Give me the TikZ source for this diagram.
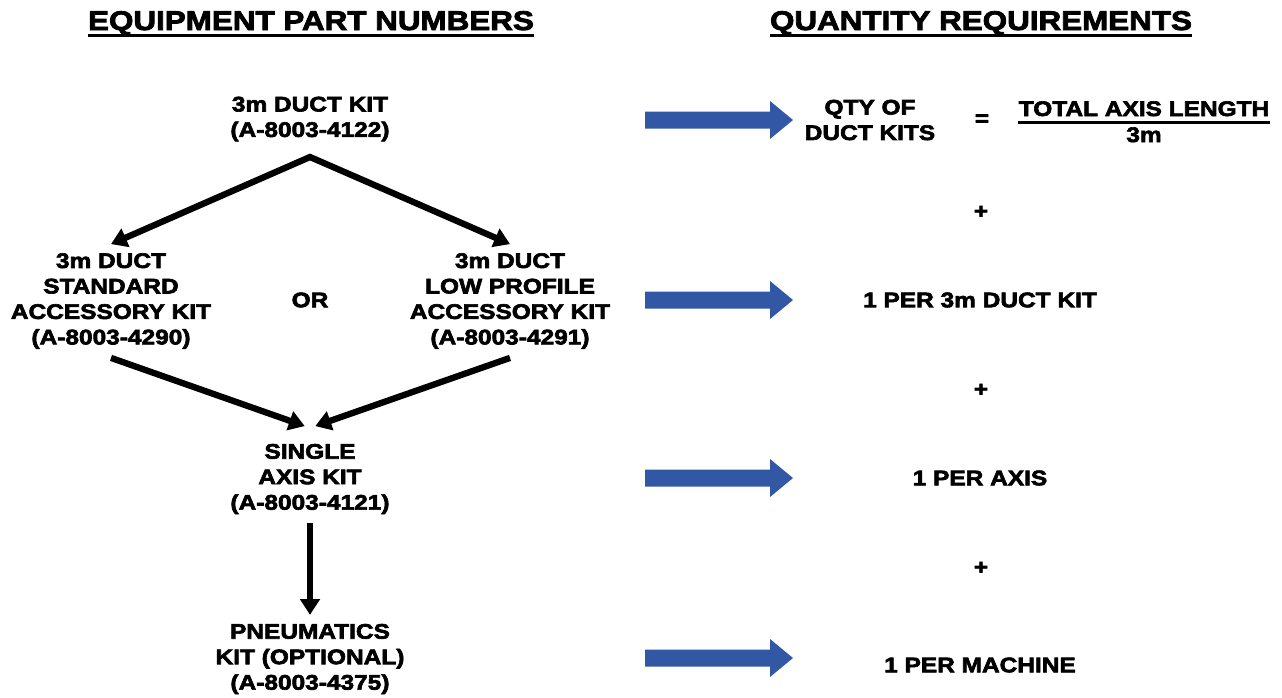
\documentclass[tikz,border=0pt]{standalone}
\usepackage{fontspec}
\setmainfont{Liberation Sans}[FakeStretch=1.16, BoldFeatures={FakeBold=3}]
\usetikzlibrary{arrows.meta}
\definecolor{kitblue}{RGB}{50,87,165}

\begin{document}
\begin{tikzpicture}[x=0.02cm, y=-0.02cm,
		every node/.style={font=\fontsize{12}{14.5}\selectfont\bfseries, align=center, inner sep=5pt},
		heading/.style={font=\fontsize{15.4}{18}\selectfont\bfseries, inner sep=0pt, text depth=0pt},
		flowline/.style={line width=3.6pt},
		tip/.style={-{Triangle[length=9pt,width=11pt]}}]
		\useasboundingbox (0,0) rectangle (1282,697);
		% column headings
		\node (eqtitle) [heading, anchor=base] at (311,30) {EQUIPMENT PART NUMBERS};
		\node (qtytitle) [heading, anchor=base] at (981,30) {QUANTITY REQUIREMENTS};
		\draw [line width=1.8pt] ([yshift=-3pt]eqtitle.south west) -- ([yshift=-3pt]eqtitle.south east);
		\draw [line width=1.8pt] ([yshift=-3pt]qtytitle.south west) -- ([yshift=-3pt]qtytitle.south east);
		% part numbers
		\node (kit3m) at (310,119) {3m DUCT KIT\\(A-8003-4122)};
		\node (stdkit) at (111,301) {3m DUCT\\STANDARD\\ACCESSORY KIT\\(A-8003-4290)};
		\node (orlabel) at (310,300) {OR};
		\node (lowkit) at (510,301) {3m DUCT\\LOW PROFILE\\ACCESSORY KIT\\(A-8003-4291)};
		\node (axiskit) at (310,479) {SINGLE\\AXIS KIT\\(A-8003-4121)};
		\node (pneukit) at (310,659) {PNEUMATICS\\KIT (OPTIONAL)\\(A-8003-4375)};
		\coordinate (fork) at (310,157);
		\draw [flowline, {Triangle[length=9pt,width=11pt]}-{Triangle[length=9pt,width=11pt]}] (stdkit.north) -- (fork) -- (lowkit.north);
		\draw [flowline, tip] (stdkit.south) -- ([xshift=-3pt,yshift=5pt]axiskit.north);
		\draw [flowline, tip] (lowkit.south) -- ([xshift=3pt,yshift=5pt]axiskit.north);
		\draw [flowline, tip] (axiskit.south) -- (pneukit.north);
		% blue arrows
		\foreach \y in {120,300,478,658}
			\fill [kitblue] (645,\y-8.5) -- (770,\y-8.5) -- (770,\y-19) -- (793,\y) -- (770,\y+19) -- (770,\y+8.5) -- (645,\y+8.5) -- cycle;
		% quantities
		\node (qtykits) at (870,120) {QTY OF\\DUCT KITS};
		\node (equals) at (982,120) {=};
		\node (totlen) [inner sep=0pt, text depth=0pt, anchor=base] at (1144,116) {TOTAL AXIS LENGTH};
		\draw [line width=1.7pt] ([yshift=-3.4pt]totlen.south west) -- ([yshift=-3.4pt]totlen.south east);
		\node (unitlen) [inner sep=0pt, anchor=base] at (1144,142) {3m};
		\node (plusa) at (981,212) {+};
		\node (perkit) at (980,300) {1 PER 3m DUCT KIT};
		\node (plusb) at (981,390) {+};
		\node (peraxis) at (980,478) {1 PER AXIS};
		\node (plusc) at (981,568) {+};
		\node (permach) at (980,665) {1 PER MACHINE};
	\end{tikzpicture}
\end{document}
